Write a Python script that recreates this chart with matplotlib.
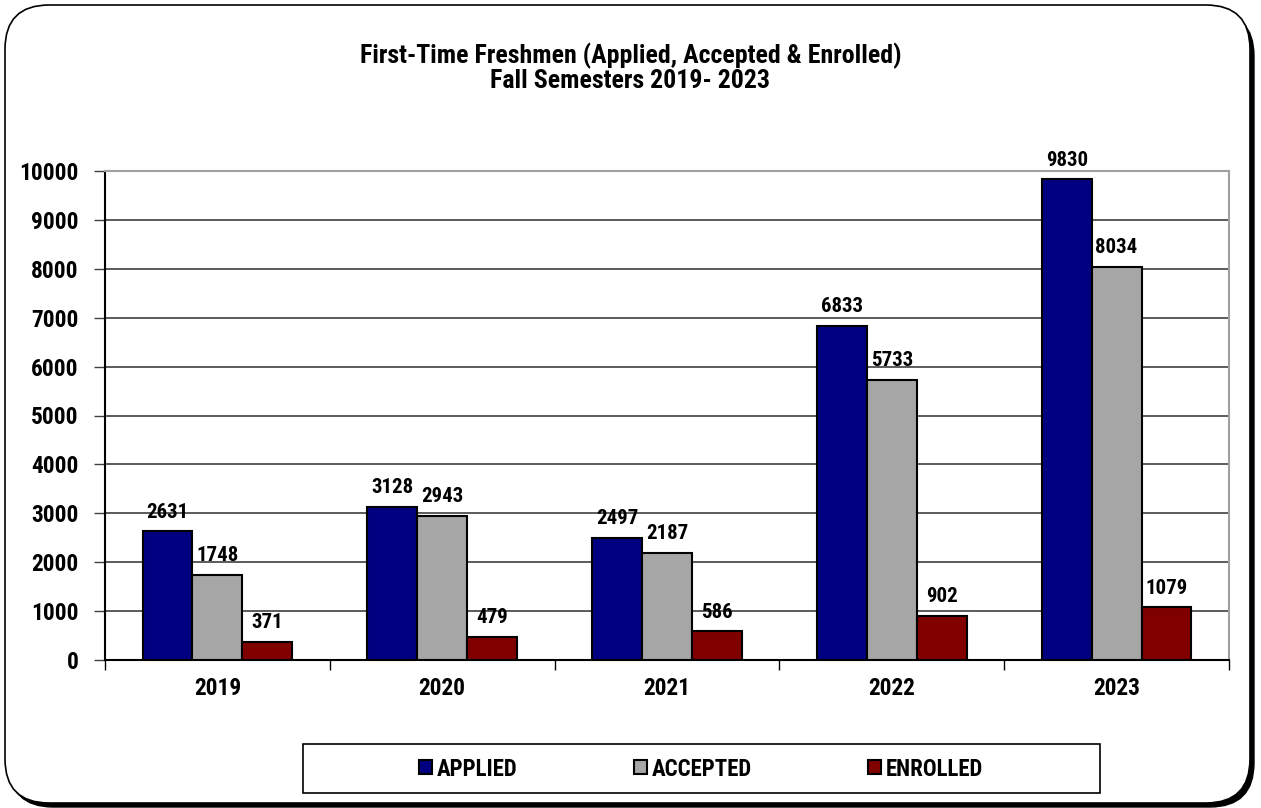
import matplotlib
matplotlib.use("Agg")
import matplotlib.pyplot as plt
from matplotlib.patches import FancyBboxPatch, Patch, Rectangle
from matplotlib.ticker import FixedLocator
import numpy as np

years = ["2019", "2020", "2021", "2022", "2023"]
applied = [2631, 3128, 2497, 6833, 9830]
accepted = [1748, 2943, 2187, 5733, 8034]
enrolled = [371, 479, 586, 902, 1079]
series_names = ["APPLIED", "ACCEPTED", "ENROLLED"]
colors = ["#000080", "#A6A6A6", "#800000"]

plt.rcParams['font.family'] = ['Roboto Condensed', 'Liberation Sans', 'DejaVu Sans']
plt.rcParams['font.weight'] = 'bold'

W, H = 1261, 808
fig = plt.figure(figsize=(W / 100, H / 100), dpi=100)

# outer rounded frame with shadow
shadow = FancyBboxPatch((9 / W, 1 / H), (1254 - 9) / W, (799 - 4) / H,
                        boxstyle="round,pad=0,rounding_size=0.035",
                        transform=fig.transFigure, facecolor="black",
                        edgecolor="black", lw=1, mutation_aspect=W / H, zorder=0)
frame = FancyBboxPatch((5 / W, 5 / H), (1250 - 5) / W, (803 - 5) / H,
                       boxstyle="round,pad=0,rounding_size=0.035",
                       transform=fig.transFigure, facecolor="white",
                       edgecolor="black", lw=1.2, mutation_aspect=W / H, zorder=1)
fig.patches.extend([shadow, frame])

ax = fig.add_axes([105 / W, 1 - 660 / H, (1229 - 105) / W, (660 - 171) / H], zorder=2)
ax.set_facecolor("none")

x = np.arange(len(years))
bw = 0.222
data = [applied, accepted, enrolled]
for i, (vals, c, name) in enumerate(zip(data, colors, series_names)):
    pos = x + (i - 1) * bw
    ax.bar(pos, vals, width=bw, color=c, edgecolor="black", linewidth=1.5,
           label=name, zorder=3)
    for p, v in zip(pos, vals):
        ax.annotate(str(v), (p, v), xytext=(0, 7), textcoords="offset points",
                    ha="center", va="bottom", fontsize=15, fontweight="bold",
                    zorder=4)

ax.set_xlim(-0.5, 4.5)
ax.set_ylim(0, 10000)
ax.set_yticks(np.arange(0, 10001, 1000))
ax.set_yticklabels([str(v) for v in range(0, 10001, 1000)], fontsize=16.8,
                   fontweight="bold")
ax.yaxis.grid(True, color="#404040", linewidth=1.2, zorder=0)
ax.set_axisbelow(True)
ax.tick_params(axis="y", length=8, width=1, color="#404040", pad=11)

ax.set_xticks(x)
ax.set_xticklabels(years, fontsize=16.8, fontweight="bold")
ax.tick_params(axis="x", which="major", length=0, pad=12)
ax.xaxis.set_minor_locator(FixedLocator(np.arange(-0.5, 5, 1)))
ax.tick_params(axis="x", which="minor", length=7, width=1, color="black")

for s in ["top", "right"]:
    ax.spines[s].set_color("#A0A0A0")
    ax.spines[s].set_linewidth(1.5)
for s in ["left", "bottom"]:
    ax.spines[s].set_color("black")
    ax.spines[s].set_linewidth(1.5)

fig.text(0.5, 1 - 56 / H, "First-Time Freshmen (Applied, Accepted & Enrolled)",
         ha="center", va="center", fontsize=18.6, fontweight="bold")
fig.text(0.5, 1 - 81 / H, "Fall Semesters 2019- 2023",
         ha="center", va="center", fontsize=18.6, fontweight="bold")

# legend frame
fig.patches.append(Rectangle((303 / W, 1 - 793 / H), (1100 - 303) / W, (793 - 744) / H,
                             transform=fig.transFigure, facecolor="white",
                             edgecolor="black", lw=1.2, zorder=3))
handles = [Patch(facecolor=c, edgecolor="black", linewidth=1.5) for c in colors]
leg = fig.legend(handles, series_names, loc="center",
                 bbox_to_anchor=(701 / W, 1 - 769 / H),
                 ncol=3, frameon=False,
                 handlelength=0.56, handleheight=0.56,
                 handletextpad=0.2, columnspacing=5.1, borderpad=0.3,
                 prop={"weight": "bold", "size": 16.5})
leg.set_zorder(5)

fig.savefig("out.png", dpi=100)
